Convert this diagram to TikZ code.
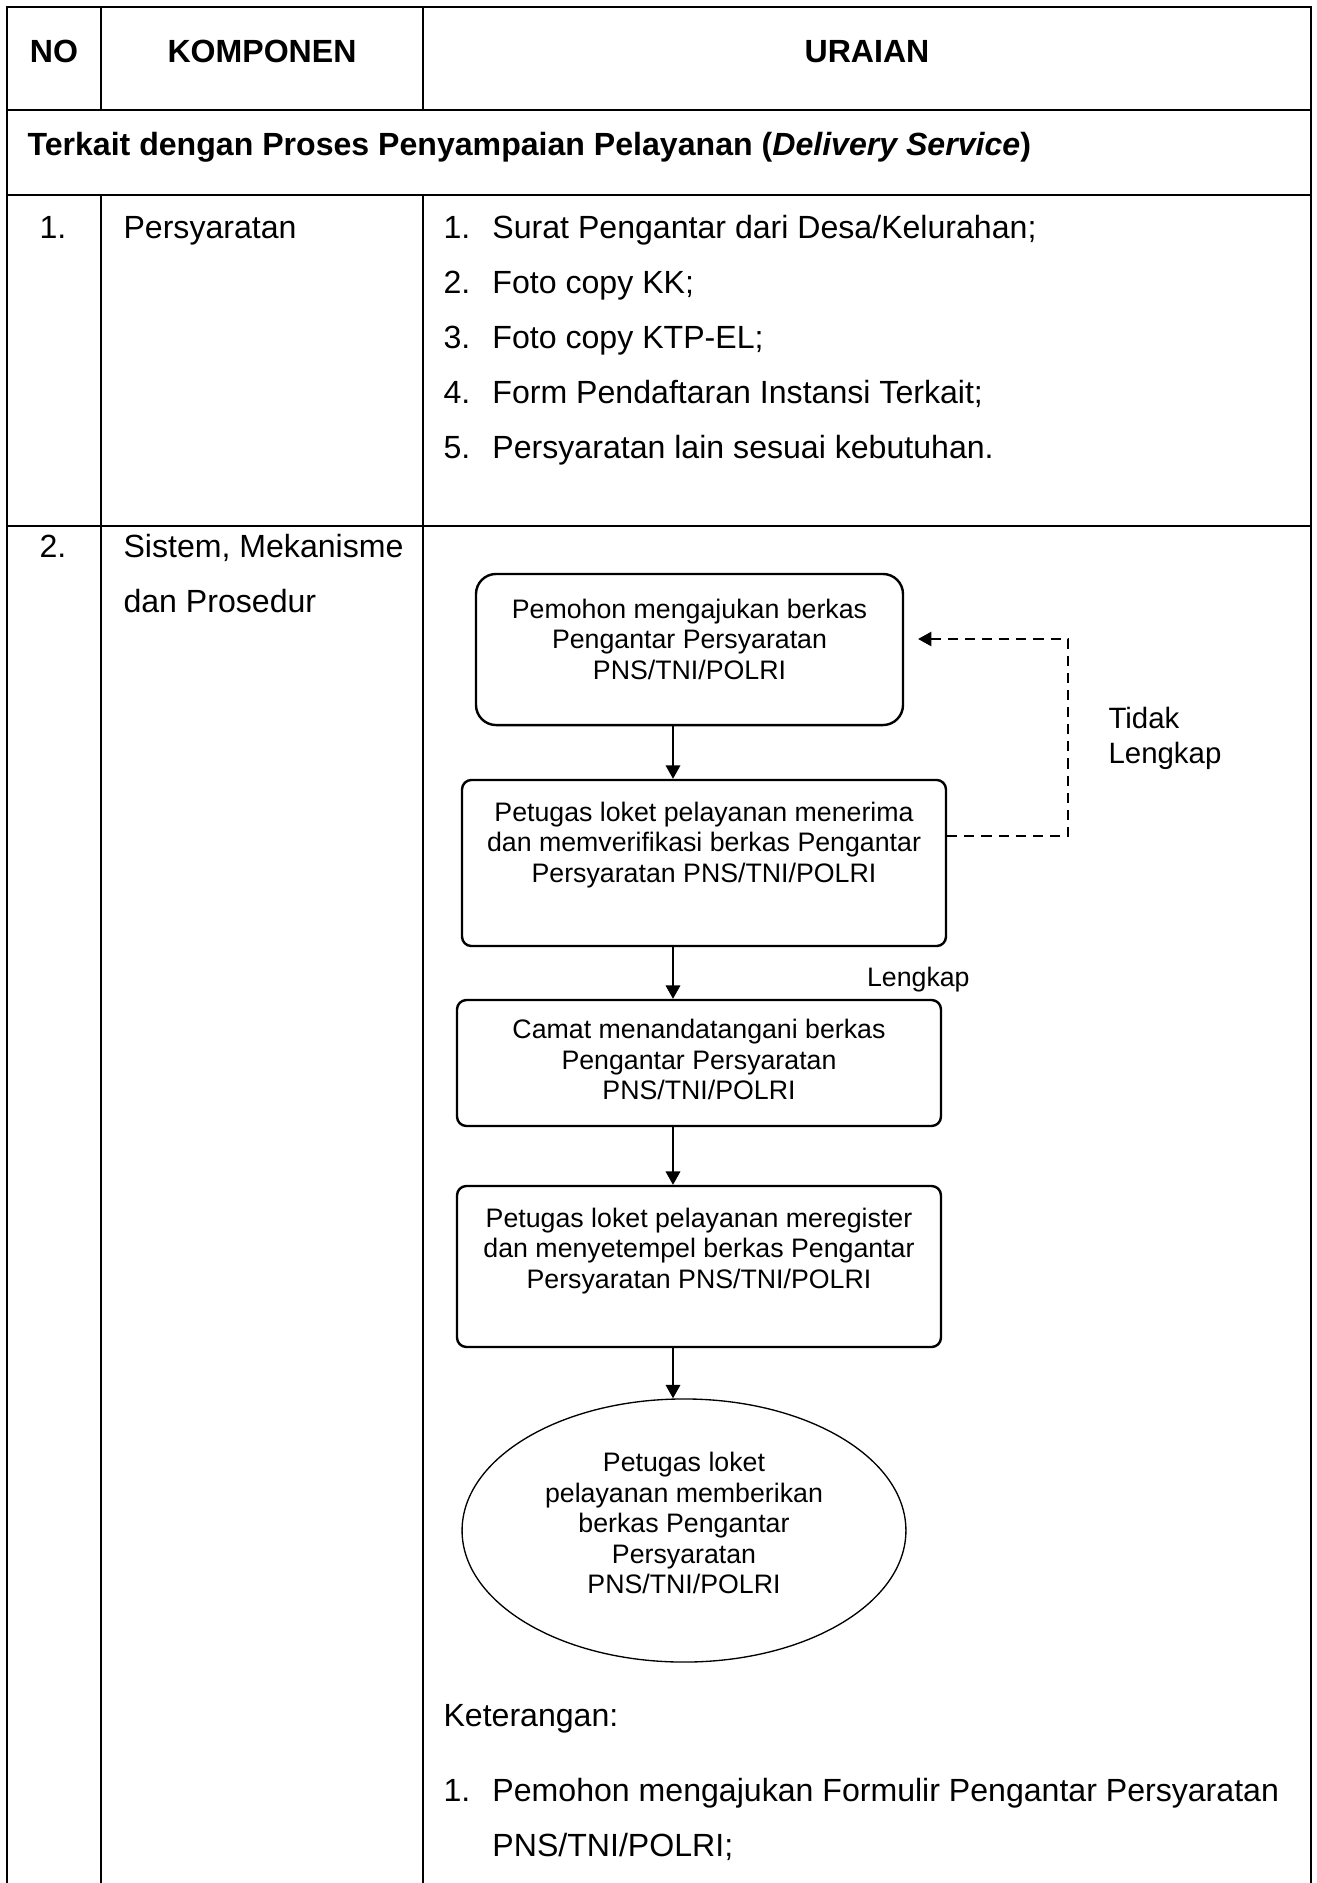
\documentclass[tikz,border=0pt]{standalone}
\usepackage{fontspec}
\setmainfont{Liberation Sans}
\usetikzlibrary{shapes.geometric, arrows.meta}

\begin{document}
\begin{tikzpicture}[x=0.374pt, y=-0.374pt,
        grid/.style={line width=1.1pt, line cap=rect},
        head/.style={anchor=base, inner sep=0pt, font=\fontsize{12}{14}\selectfont\bfseries},
        num/.style={anchor=base, inner sep=0pt, font=\fontsize{12}{14}\selectfont},
        body/.style={anchor=base west, inner sep=0pt, font=\fontsize{12}{20.57}\selectfont},
        flowbox/.style={draw, line width=0.9pt, rounded corners=3.5pt, inner sep=0pt, font=\fontsize{10}{11.4}\selectfont},
        flowarrow/.style={-{Triangle[length=5pt, width=5.4pt]}, line width=0.75pt},
        note/.style={inner sep=0pt, font=\fontsize{10}{11.4}\selectfont}]

        \useasboundingbox (0,0) rectangle (1317,1883);

        % Table
        \draw[grid] (7,7) -- (1311,7);
        \draw[grid] (7,110) -- (1311,110);
        \draw[grid] (7,195) -- (1311,195);
        \draw[grid] (7,526) -- (1311,526);
        \draw[grid] (7,7) -- (7,1883);
        \draw[grid] (1311,7) -- (1311,1883);
        \draw[grid] (101,7) -- (101,110);
        \draw[grid] (101,195) -- (101,1883);
        \draw[grid] (423,7) -- (423,110);
        \draw[grid] (423,195) -- (423,1883);

        % Header
        \node[head] (no) at (54,62) {NO};
        \node[head] (komponen) at (262,62) {KOMPONEN};
        \node[head] (uraian) at (867,62) {URAIAN};
        \node[head, anchor=base west] (terkait) at (27,155) {Terkait dengan Proses Penyampaian Pelayanan (\textit{Delivery Service})};

        % Row 1
        \node[num] (no1) at (53,238) {1.};
        \node[body] (persyaratan) at (123,238) {Persyaratan};
        \node[body] (syarat) at (443,238) {
            \begin{tabular}[t]{@{}l@{\hspace{8.3pt}}l@{}}
                1. & Surat Pengantar dari Desa/Kelurahan; \\
                2. & Foto copy KK; \\
                3. & Foto copy KTP-EL; \\
                4. & Form Pendaftaran Instansi Terkait; \\
                5. & Persyaratan lain sesuai kebutuhan.
            \end{tabular}
        };

        % Row 2
        \node[num] (no2) at (53,557) {2.};
        \node[body] (sistem) at (123,557) {
            \begin{tabular}[t]{@{}l@{}}
                Sistem, Mekanisme \\
                dan Prosedur
            \end{tabular}
        };

        % Blocks
        \node[flowbox, rounded corners=7.5pt, minimum width=159.7pt, minimum height=56.5pt] (pemohon) at (689.5,649.5) {
            \begin{tabular}{@{}c@{}}
                Pemohon mengajukan berkas \\
                Pengantar Persyaratan \\
                PNS/TNI/POLRI \\[5.2pt]
            \end{tabular}
        };
        \node[flowbox, minimum width=181pt, minimum height=62.1pt] (verifikasi) at (704,863) {
            \begin{tabular}{@{}c@{}}
                Petugas loket pelayanan menerima \\
                dan memverifikasi berkas Pengantar \\
                Persyaratan PNS/TNI/POLRI \\[13pt]
            \end{tabular}
        };
        \node[flowbox, minimum width=181pt, minimum height=47.1pt] (camat) at (699,1063) {
            \begin{tabular}{@{}c@{}}
                Camat menandatangani berkas \\
                Pengantar Persyaratan \\
                PNS/TNI/POLRI
            \end{tabular}
        };
        \node[flowbox, minimum width=181pt, minimum height=60.2pt] (register) at (699,1266.5) {
            \begin{tabular}{@{}c@{}}
                Petugas loket pelayanan meregister \\
                dan menyetempel berkas Pengantar \\
                Persyaratan PNS/TNI/POLRI \\[11.2pt]
            \end{tabular}
        };
        \node[ellipse, draw, line width=0.5pt, inner sep=0pt, minimum width=166pt, minimum height=98.4pt, font=\fontsize{10}{11.4}\selectfont] (berikan) at (684,1530.5) {
            \begin{tabular}{@{}c@{}}
                Petugas loket \\
                pelayanan memberikan \\
                berkas Pengantar \\
                Persyaratan \\
                PNS/TNI/POLRI \\[3pt]
            \end{tabular}
        };

        % Arrows
        \coordinate (spine) at (673,0);
        \draw[flowarrow] (spine |- pemohon.south) -- (spine |- verifikasi.north);
        \draw[flowarrow] (spine |- verifikasi.south) -- (spine |- camat.north);
        \draw[flowarrow] (spine |- camat.south) -- (spine |- register.north);
        \draw[flowarrow] (spine |- register.south) -- (spine |- berikan.north);

        % Tidak lengkap, back to the first block
        \coordinate (tidakout) at (1068,836);
        \coordinate (tidakin) at (1068,639);
        \draw[flowarrow, line width=0.6pt, dash pattern=on 3.8pt off 2.6pt, shorten >=5.2pt] (verifikasi.east |- tidakout) -- (tidakout) -- (tidakin) -- (pemohon.east |- tidakin);

        % Labels
        \node[anchor=west, inner sep=0pt, font=\fontsize{11}{13}\selectfont] (tidak) at (1108,739) {
            \begin{tabular}{@{}l@{}}
                Tidak \\
                Lengkap
            \end{tabular}
        };
        \node[note, anchor=base west] (lengkap) at (866.5,986) {Lengkap};

        % Keterangan
        \node[body] (keterangan) at (443,1726) {Keterangan:};
        \node[body] (ket1) at (443,1801) {
            \begin{tabular}[t]{@{}l@{\hspace{8.3pt}}l@{}}
                1. & Pemohon mengajukan Formulir Pengantar Persyaratan \\
                   & PNS/TNI/POLRI;
            \end{tabular}
        };

    \end{tikzpicture}
\end{document}
